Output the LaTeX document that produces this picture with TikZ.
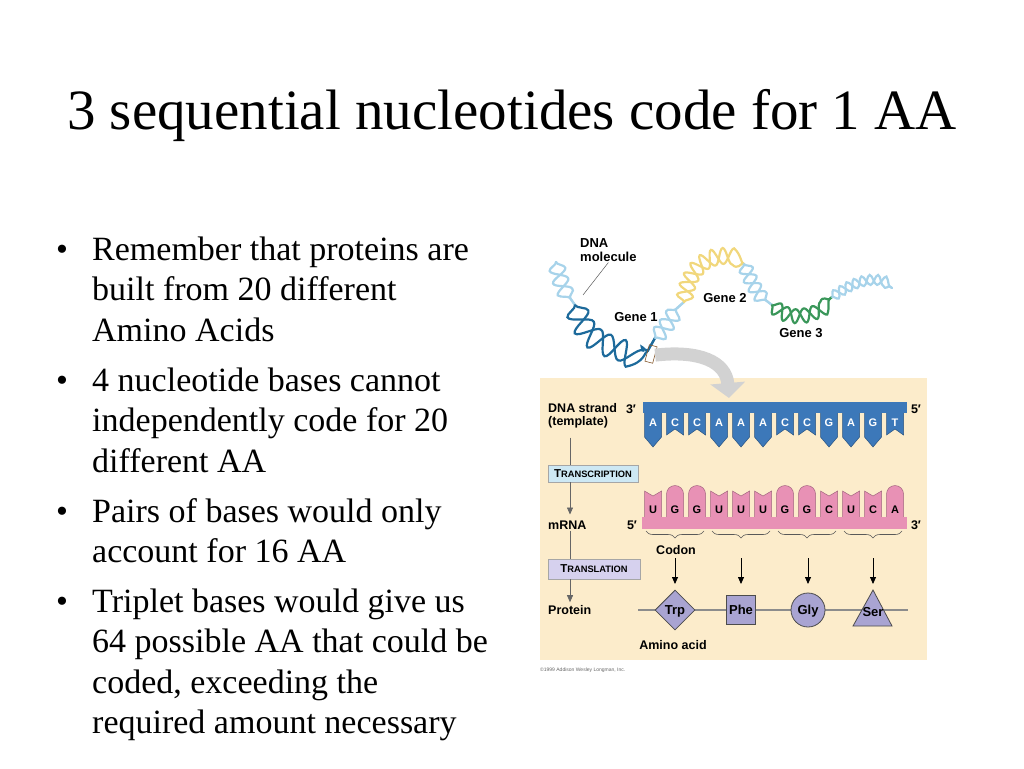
\documentclass[tikz,border=0pt]{standalone}
\usepackage{fontspec}
\setmainfont{Liberation Serif}
\newfontfamily\figfont{Liberation Sans}
\usetikzlibrary{shapes.geometric,arrows.meta,decorations.pathmorphing,decorations.pathreplacing}

\definecolor{panelbg}{HTML}{FCECCB}
\definecolor{dnablue}{HTML}{3C78B9}
\definecolor{rnapink}{HTML}{E891B5}
\definecolor{aalilac}{HTML}{A9A4D2}
\definecolor{txbox}{HTML}{CDE8F4}
\definecolor{tlbox}{HTML}{D6D1EE}
\definecolor{helixlight}{HTML}{A7D3EA}
\definecolor{helixdark}{HTML}{1D6A9B}
\definecolor{helixyellow}{HTML}{F1D77C}
\definecolor{helixgreen}{HTML}{3A975A}

\newcommand\fakesc[2]{{\fontsize{11.5}{12}\selectfont #1}{\fontsize{9.3}{10}\selectfont #2}}

\tikzset{
  bullettext/.style={anchor=base west, align=left, inner sep=0pt,
    font=\fontsize{34}{40.5}\selectfont},
  bulletdot/.style={anchor=base, inner sep=0pt, font=\fontsize{34}{40.5}\selectfont},
  lbl/.style={inner sep=1pt, font=\figfont\bfseries\fontsize{12.5}{13.5}\selectfont},
  genelbl/.style={inner sep=1pt, font=\figfont\bfseries\fontsize{13}{14}\selectfont},
  baseletter/.style={inner sep=0pt, font=\figfont\bfseries\fontsize{11}{12}\selectfont},
  stepbox/.style={draw=gray!70, line width=0.8pt, inner sep=0pt, font=\figfont\bfseries},
  strand/.style 2 args={decorate, decoration={snake, amplitude=#1, segment length=#2},
    line width=2.2pt, line cap=round},
  flow/.style={draw=gray!80!black, line width=0.7pt},
  flowtip/.style={flow, -{Triangle[length=7pt,width=6pt]}, shorten >=5pt},
  codarrow/.style={draw=black, line width=0.8pt, -{Triangle[length=7pt,width=6pt]}},
  codonbrace/.style={draw=gray!70!black, line width=0.6pt,
    decorate, decoration={brace, mirror, amplitude=7pt}},
  aa/.style={draw=gray!60!black, fill=aalilac, line width=0.8pt, inner sep=0pt,
    text height=11.5pt, text depth=2.5pt,
    font=\figfont\bfseries\fontsize{13}{14}\selectfont},
  backbone/.style={draw=gray!90, line width=2.2pt},
  rnabase/.style={fill=rnapink, draw=rnapink!70!black, line width=0.5pt},
  dnabase/.style={fill=dnablue, draw=dnablue!70!black, line width=0.5pt},
}

\begin{document}
\begin{tikzpicture}[x=1pt,y=-1pt]
\useasboundingbox (0,0) rectangle (1024,768);

% title and bullets
\node[anchor=base, inner sep=0pt, font=\fontsize{57}{60}\selectfont] (title) at (512,129)
  {3 sequential nucleotides code for 1 AA};
\node[bulletdot] (dot1) at (62,260) {\textbullet};
\node[bullettext] (remember) at (92,341) {Remember that proteins are\\built from 20 different\\Amino Acids};
\node[bulletdot] (dot2) at (62,391) {\textbullet};
\node[bullettext] (fourbases) at (92,472) {4 nucleotide bases cannot\\independently code for 20\\different AA};
\node[bulletdot] (dot3) at (62,522) {\textbullet};
\node[bullettext] (pairs) at (92,562.5) {Pairs of bases would only\\account for 16 AA};
\node[bulletdot] (dot4) at (62,612) {\textbullet};
\node[bullettext] (triplet) at (92,733.5) {Triplet bases would give us\\64 possible AA that could be\\coded, exceeding the\\required amount necessary};

% DNA molecule with genes
\foreach \s in {1,-1} {
  \draw[strand={\s*8pt}{24pt}, helixlight] (556,262) .. controls (560,282) and (568,295) .. (575,305);
  \draw[strand={\s*11pt}{30pt}, helixdark] (575,305) .. controls (588,345) and (615,335) .. (630,350)
    .. controls (640,360) and (648,345) .. (655,338);
  \draw[strand={\s*8pt}{22pt}, helixlight] (655,338) .. controls (668,325) and (672,310) .. (684,302);
  \draw[strand={\s*8pt}{20pt}, helixyellow] (684,302) .. controls (690,265) and (715,255) .. (744,264);
  \draw[strand={\s*7pt}{20pt}, helixlight] (744,264) .. controls (752,285) and (762,298) .. (772,305);
  \draw[strand={\s*7pt}{20pt}, helixgreen] (772,305) .. controls (790,320) and (812,312) .. (832,297);
  \draw[strand={\s*5pt}{15pt}, helixlight] (832,297) .. controls (850,285) and (870,275) .. (892,288);
}
\node[genelbl, anchor=north west, align=left] (dnamol) at (579,237) {DNA\\molecule};
\coordinate (helixpt) at (583,295);
\draw[gray!70!black, line width=0.5pt] (dnamol.south) -- (helixpt);
\node[genelbl] (gene1) at (636,317) {Gene 1};
\node[genelbl] (gene2) at (725,298) {Gene 2};
\node[genelbl] (gene3) at (801,333) {Gene 3};
\node[draw=brown!70!black, line width=0.6pt, minimum width=8pt, minimum height=17pt,
  inner sep=0pt, rotate=-15] (sel) at (651,354) {};

% panel
\fill[panelbg] (540,378) rectangle (927,660);
\draw[gray!35, line width=13pt, -{Triangle[length=15pt,width=34pt]}]
  (sel.east) .. controls (700,350) and (726,362) .. (729,398);

% template strand
\foreach \b/\p [count=\i from 0] in {A/1,C/0,C/0,A/1,A/1,A/1,C/0,C/0,G/1,A/1,G/1,T/0} {
  \pgfmathsetmacro\xc{653+22*\i}
  \ifnum\p=1
    \filldraw[dnabase] (\xc-8.5,412) -- (\xc-8.5,437) -- (\xc,447) -- (\xc+8.5,437) -- (\xc+8.5,412) -- cycle;
  \else
    \filldraw[dnabase] (\xc-8.5,412) -- (\xc-8.5,435) -- (\xc,429) -- (\xc+8.5,435) -- (\xc+8.5,412) -- cycle;
  \fi
  \node[baseletter, text=white] (t\i) at (\xc,423) {\b};
}
\fill[dnablue] (643,402) rectangle (907,413);
\node[lbl, anchor=north west, align=left] (strand) at (547,402) {DNA strand\\(template)};
\node[lbl] (tmpl3) at (631,409) {3′};
\node[lbl] (tmpl5) at (916,409) {5′};

% mRNA
\foreach \b/\p [count=\i from 0] in {U/0,G/1,G/1,U/0,U/0,U/0,G/1,G/1,C/0,U/0,C/0,A/1} {
  \pgfmathsetmacro\xc{653+22*\i}
  \ifnum\p=1
    \filldraw[rnabase] (\xc-8.5,518) -- (\xc-8.5,494) arc[start angle=180, end angle=360, radius=8.5] -- (\xc+8.5,518) -- cycle;
  \else
    \filldraw[rnabase] (\xc-8.5,518) -- (\xc-8.5,491) -- (\xc,496) -- (\xc+8.5,491) -- (\xc+8.5,518) -- cycle;
  \fi
  \node[baseletter] (m\i) at (\xc,510) {\b};
}
\fill[rnapink] (642,517) rectangle (907,529);
\node[lbl] (mrna5) at (632,525) {5′};
\node[lbl] (mrna3) at (916,525) {3′};
\foreach \k in {0,...,3}
  \draw[codonbrace] (646+66*\k,531) -- (704+66*\k,531);
\node[lbl] (codon) at (676,550) {Codon};

% left column
\node[stepbox, fill=txbox, minimum width=90pt, minimum height=17pt] (transc) at (593,473.5) {\fakesc{T}{RANSCRIPTION}};
\node[lbl, anchor=west] (mrna) at (547,525) {mRNA};
\node[stepbox, fill=tlbox, minimum width=92pt, minimum height=20pt] (transl) at (594,569) {\fakesc{T}{RANSLATION}};
\node[lbl, anchor=west] (protein) at (547,610) {Protein};
\coordinate (flowx) at (570,0);
\draw[flow, shorten <=8pt] (strand.south -| flowx) -- (transc.north -| flowx);
\draw[flowtip] (transc.south -| flowx) -- (mrna.north -| flowx);
\draw[flow] (mrna.south -| flowx) -- (transl.north -| flowx);
\draw[flowtip, shorten >=2pt] (transl.south -| flowx) -- (protein.north -| flowx);

% protein
\coordinate (pstart) at (638,610);
\coordinate (pend) at (908,610);
\draw[backbone] (pstart) -- (pend);
\node[aa, diamond, minimum size=40pt] (trp) at (675,610) {Trp};
\node[aa, minimum size=29pt] (phe) at (741,610) {Phe};
\node[aa, circle, minimum size=34pt] (gly) at (808,610) {Gly};
\filldraw[aa] (873,590) -- (892,626) -- (853,626) -- cycle;
\node[aa, draw=none, fill=none] (ser) at (873,612) {Ser};
\coordinate (codtop) at (0,558);
\coordinate (codbot) at (0,584);
\foreach \n in {trp,phe,gly,ser}
  \draw[codarrow] (\n |- codtop) -- (\n |- codbot);
\node[lbl] (aminoacid) at (673,645) {Amino acid};

\node[anchor=west, inner sep=0pt, text=gray!80!black, font=\figfont\fontsize{5}{6}\selectfont] (copyr) at (540,670)
  {©1999 Addison Wesley Longman, Inc.};
\end{tikzpicture}
\end{document}
